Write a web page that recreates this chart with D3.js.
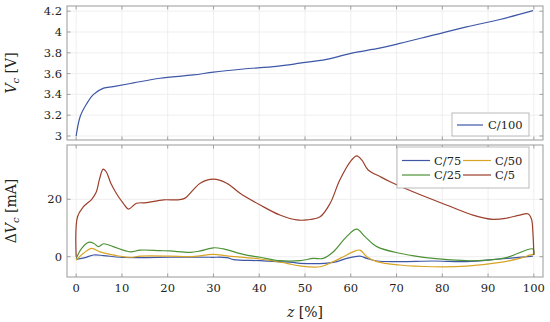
<!DOCTYPE html>
<html><head><meta charset="utf-8">
<script src="https://cdn.jsdelivr.net/npm/d3@7"></script>
<style>body{margin:0;background:#fff}svg{display:block}svg text{font-family:"DejaVu Serif",serif}</style>
</head><body><svg id="c" width="550" height="322"></svg>
<script>
const xTicks = [0,10,20,30,40,50,60,70,80,90,100];
const vTicks = [3,3.2,3.4,3.6,3.8,4,4.2];
const dTicks = [0,20];

const zC100 = [0,0.9,2.3,3.8,6,8.1,12.5,18.3,25.6,30,36.5,43.8,48.9,54.7,60.5,65.7,70.7,78,85.3,92.6,99.8];
const vC100 = [3.0,3.19,3.31,3.40,3.46,3.475,3.51,3.555,3.587,3.615,3.644,3.67,3.70,3.737,3.80,3.84,3.89,3.97,4.05,4.12,4.205];

const zC75 = [0,2,3.8,6,9.6,14.7,20.5,29.3,32.9,34.4,40.2,47.4,48.9,56.2,59.1,62,63.5,65.7,70.7,78,85.3,92.6,99.8];
const dC75 = [-0.9,-0.3,0.6,0.4,-0.2,-0.3,-0.2,-0.2,-0.3,-1,-1.4,-2,-2.3,-2,-0.6,0.2,-0.6,-1.5,-1.7,-1.5,-1.7,-0.8,0.2];

const zC50 = [0,1.6,3.4,5.2,7.4,11.8,14,20.5,24.9,30,32.9,40.2,46,48.9,53.3,56.2,58.4,60.5,62,63.5,65.7,70.7,78,85.3,92.6,96.9,99.8,100];
const dC50 = [-1.2,1.2,2.9,1.7,0.8,-0.2,0.2,0.2,0,0.8,0.3,-0.8,-2.3,-3.2,-3.5,-1.7,0,1.7,2.3,0,-1.7,-2.9,-3.5,-3.3,-2,-0.6,0.8,0.6];

const zC25 = [0,1.2,2.7,3.8,4.9,6,8.1,11.8,14,18.3,20.5,24.9,27.1,30,32.2,36.5,40.2,44.5,48.9,51.8,54,56.2,59.1,61.3,63.1,65.7,70.7,78,85.3,89.6,94,99.8,100];
const dC25 = [-0.6,2.9,5,4.7,3.5,4.5,3.5,1.7,2.3,2.1,2,1.5,2,3.1,2.7,0.8,-0.2,-1.4,-1.4,-0.6,-0.6,1.7,7,9.6,7,3.5,1.2,-0.6,-1.4,-1.2,-0.3,2.7,0.6];

const zC5 = [0,0.3,1.6,3.4,4.4,5.1,5.9,6.6,7.6,9,10.3,11.4,13.2,15.4,19.1,22.3,23.8,27.1,30,32.9,35.8,40.2,44.5,48.2,50.4,53.3,55.5,57.6,60.2,61.3,62.4,63.8,66.4,68.6,73.6,80.9,86.7,91.1,94,96.9,98.8,99.5,99.8,100];
const dC5 = [0,13.9,17.4,20,22.5,27,30.5,29.5,25.5,21.5,18.6,16.6,18.6,18.8,19.8,19.8,20.4,25.6,27,25.6,22.1,18,14.5,12.8,12.8,13.9,18.6,26.7,33.7,35.1,33.7,30.2,27.9,26.1,22.6,18,14.5,13,13.4,14.5,14.9,13,8.2,0.6];

const colors = {C100:"#3d56a6", C75:"#3d56a6", C50:"#d8a424", C25:"#4d9236", C5:"#9c3f2b"};

const svg = d3.select("#c");
const L = 67, R = 543;
const x = d3.scaleLinear().domain([-2,102]).range([L,R]);
const yTop = d3.scaleLinear().domain([2.9615,4.25]).range([140,6]);
const yBot = d3.scaleLinear().domain([-7.07,38.9]).range([277,145]);

function panel(y, yt, showX){
  const g = svg.append("g");
  const [b,t] = y.range();
  g.selectAll(".gx").data(xTicks).enter().append("line")
    .attr("x1",d=>x(d)).attr("x2",d=>x(d)).attr("y1",t).attr("y2",b)
    .attr("stroke","#ebebeb").attr("stroke-width",0.8);
  g.selectAll(".gy").data(yt).enter().append("line")
    .attr("x1",L).attr("x2",R).attr("y1",d=>y(d)).attr("y2",d=>y(d))
    .attr("stroke","#ebebeb").attr("stroke-width",0.8);
  const tk = 3.5;
  xTicks.forEach(d=>{
    g.append("line").attr("x1",x(d)).attr("x2",x(d)).attr("y1",b).attr("y2",b-tk).attr("stroke","#8a8a8a").attr("stroke-width",0.8);
    g.append("line").attr("x1",x(d)).attr("x2",x(d)).attr("y1",t).attr("y2",t+tk).attr("stroke","#8a8a8a").attr("stroke-width",0.8);
  });
  yt.forEach(d=>{
    g.append("line").attr("x1",L).attr("x2",L+tk).attr("y1",y(d)).attr("y2",y(d)).attr("stroke","#8a8a8a").attr("stroke-width",0.8);
    g.append("line").attr("x1",R).attr("x2",R-tk).attr("y1",y(d)).attr("y2",y(d)).attr("stroke","#8a8a8a").attr("stroke-width",0.8);
    g.append("text").attr("x",L-5).attr("y",y(d)).attr("dy","0.35em").attr("text-anchor","end")
      .attr("font-size",11.5).attr("fill","#222").text(d3.format("~g")(d));
  });
  if(showX){
    xTicks.forEach(d=>{
      g.append("text").attr("x",x(d)).attr("y",b+15).attr("text-anchor","middle").attr("font-size",11.5).attr("fill","#222").text(d);
    });
  }
  g.append("rect").attr("x",L).attr("y",t).attr("width",R-L).attr("height",b-t)
    .attr("fill","none").attr("stroke","#999").attr("stroke-width",1);
  return g;
}
panel(yTop, vTicks, false);
panel(yBot, dTicks, true);

function draw(zs, vs, y, col){
  const pts = zs.map((z,i)=>[x(z), y(vs[i])]);
  svg.append("path").attr("d", d3.line().curve(d3.curveCatmullRom.alpha(0.5))(pts))
    .attr("fill","none").attr("stroke",col).attr("stroke-width",1.2);
}
draw(zC100, vC100, yTop, colors.C100);
draw(zC75, dC75, yBot, colors.C75);
draw(zC50, dC50, yBot, colors.C50);
draw(zC25, dC25, yBot, colors.C25);
draw(zC5, dC5, yBot, colors.C5);

const lg1 = svg.append("g");
lg1.append("rect").attr("x",452).attr("y",113).attr("width",77).attr("height",23).attr("fill","#fff").attr("stroke","#aaa").attr("stroke-width",0.8);
lg1.append("line").attr("x1",457).attr("x2",483).attr("y1",125).attr("y2",125).attr("stroke",colors.C100).attr("stroke-width",1.2);
lg1.append("text").attr("x",488).attr("y",125).attr("dy","0.35em").attr("font-size",11.5).attr("fill","#222").text("C/100");

const lg2 = svg.append("g");
lg2.append("rect").attr("x",397).attr("y",147).attr("width",132).attr("height",41).attr("fill","#fff").attr("stroke","#aaa").attr("stroke-width",0.8);
const entries = [["C/75",colors.C75,402,160.5],["C/50",colors.C50,463,160.5],["C/25",colors.C25,402,175],["C/5",colors.C5,463,175]];
entries.forEach(([t,c,ex,ey])=>{
  lg2.append("line").attr("x1",ex).attr("x2",ex+28).attr("y1",ey).attr("y2",ey).attr("stroke",c).attr("stroke-width",1.2);
  lg2.append("text").attr("x",ex+32).attr("y",ey).attr("dy","0.35em").attr("font-size",11.5).attr("fill","#222").text(t);
});

const t1 = svg.append("text").attr("transform","translate(16,73) rotate(-90)").attr("text-anchor","middle").attr("font-size",14).attr("fill","#222");
t1.append("tspan").attr("font-style","italic").text("V");
t1.append("tspan").attr("font-style","italic").attr("font-size",10).attr("dy",3).text("c");
t1.append("tspan").attr("dy",-3).text(" [V]");
const t2 = svg.append("text").attr("transform","translate(16,211) rotate(-90)").attr("text-anchor","middle").attr("font-size",14).attr("fill","#222");
t2.append("tspan").text("Δ");
t2.append("tspan").attr("font-style","italic").text("V");
t2.append("tspan").attr("font-style","italic").attr("font-size",10).attr("dy",3).text("c");
t2.append("tspan").attr("dy",-3).text(" [mA]");
const t3 = svg.append("text").attr("x",305).attr("y",317).attr("text-anchor","middle").attr("font-size",14).attr("fill","#222");
t3.append("tspan").attr("font-style","italic").text("z");
t3.append("tspan").text(" [%]");
</script></body></html>
